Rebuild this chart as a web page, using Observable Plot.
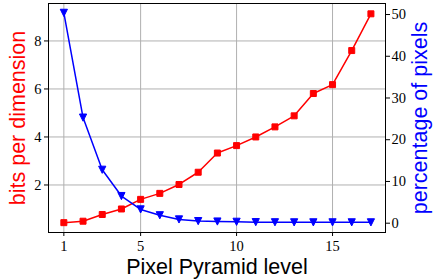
<!DOCTYPE html>
<html><head><meta charset="utf-8">
<script src="https://cdn.jsdelivr.net/npm/d3@7"></script>
<script src="https://cdn.jsdelivr.net/npm/@observablehq/plot@0.6"></script>
<style>body{margin:0;background:#fff}</style>
</head><body><div id="chart"></div>
<script>
const levels = [1, 2, 3, 4, 5, 6, 7, 8, 9, 10, 11, 12, 13, 14, 15, 16, 17];
const bitsPerDim = [0.43, 0.49, 0.77, 1.0, 1.40, 1.65, 2.02, 2.53, 3.33, 3.64, 4.0, 4.42, 4.88, 5.81, 6.18, 7.6, 9.13];
const pctPixels = [50.4, 25.3, 12.8, 6.5, 3.3, 1.9, 0.9, 0.5, 0.4, 0.33, 0.25, 0.22, 0.2, 0.2, 0.2, 0.2, 0.2];
const xTicks = [1, 5, 10, 15];
const leftTicks = [2, 4, 6, 8];
const rightTicks = [0, 10, 20, 30, 40, 50];
const xLabel = "Pixel Pyramid level";
const leftLabel = "bits per dimension";
const rightLabel = "percentage of pixels";

const data = levels.map((l, i) => ({level: l, bpd: bitsPerDim[i], pct: pctPixels[i]}));

// secondary (right) axis mapped onto the primary y scale
const ySecondary = d3.scaleLinear().domain([-2.23, 52.64]).range([0.02, 9.56]);

const squareSym = {draw(ctx, size) { const r = Math.sqrt(size / Math.PI); ctx.rect(-r, -r, 2 * r, 2 * r); }};
const triDown = {draw(ctx, size) { const r = Math.sqrt(size / Math.PI); ctx.moveTo(0, r); ctx.lineTo(-r, -r); ctx.lineTo(r, -r); ctx.closePath(); }};

const sans = "'Liberation Sans', Arial, sans-serif";

const chart = Plot.plot({
  width: 433, height: 279,
  marginLeft: 48, marginRight: 48, marginTop: 3, marginBottom: 47,
  x: {domain: [0.2, 17.76]},
  y: {domain: [0.02, 9.56]},
  style: {fontFamily: "'Liberation Serif', serif", fontSize: "14.5px", color: "black", background: "white"},
  marks: [
    Plot.gridX(xTicks, {stroke: "#b0b0b0", strokeOpacity: 1, strokeWidth: 1}),
    Plot.gridY(leftTicks, {stroke: "#b0b0b0", strokeOpacity: 1, strokeWidth: 1}),
    Plot.line(data, {x: "level", y: "bpd", stroke: "red", strokeWidth: 1.5}),
    Plot.dot(data, {x: "level", y: "bpd", symbol: squareSym, r: 3, fill: "red", stroke: "red", strokeWidth: 1}),
    Plot.line(data, {x: "level", y: d => ySecondary(d.pct), stroke: "blue", strokeWidth: 1.5}),
    Plot.dot(data, {x: "level", y: d => ySecondary(d.pct), symbol: triDown, r: 3.6, fill: "blue", stroke: "blue", strokeWidth: 1}),
    Plot.frame({stroke: "black", strokeWidth: 1}),
    Plot.axisX(xTicks, {anchor: "bottom", tickSize: 4, tickPadding: 4, label: null}),
    Plot.axisY(leftTicks, {anchor: "left", tickSize: 4, tickPadding: 3, label: null}),
    Plot.axisY(rightTicks.map(ySecondary), {anchor: "right", tickSize: 4, tickPadding: 2, label: null,
      tickFormat: v => String(Math.round(ySecondary.invert(v)))}),
    Plot.text([xLabel], {text: d => d, frameAnchor: "bottom", dy: 35, textAnchor: "middle", lineAnchor: "middle", fontSize: 21.5, fontFamily: sans, fill: "black"}),
    Plot.text([leftLabel], {text: d => d, frameAnchor: "left", dx: -30, rotate: -90, textAnchor: "middle", lineAnchor: "middle", fontSize: 21.5, fontFamily: sans, fill: "red"}),
    Plot.text([rightLabel], {text: d => d, frameAnchor: "right", dx: 35, rotate: -90, textAnchor: "middle", lineAnchor: "middle", fontSize: 21.5, fontFamily: sans, fill: "blue"})
  ]
});
document.getElementById("chart").appendChild(chart);
</script>
</body></html>
